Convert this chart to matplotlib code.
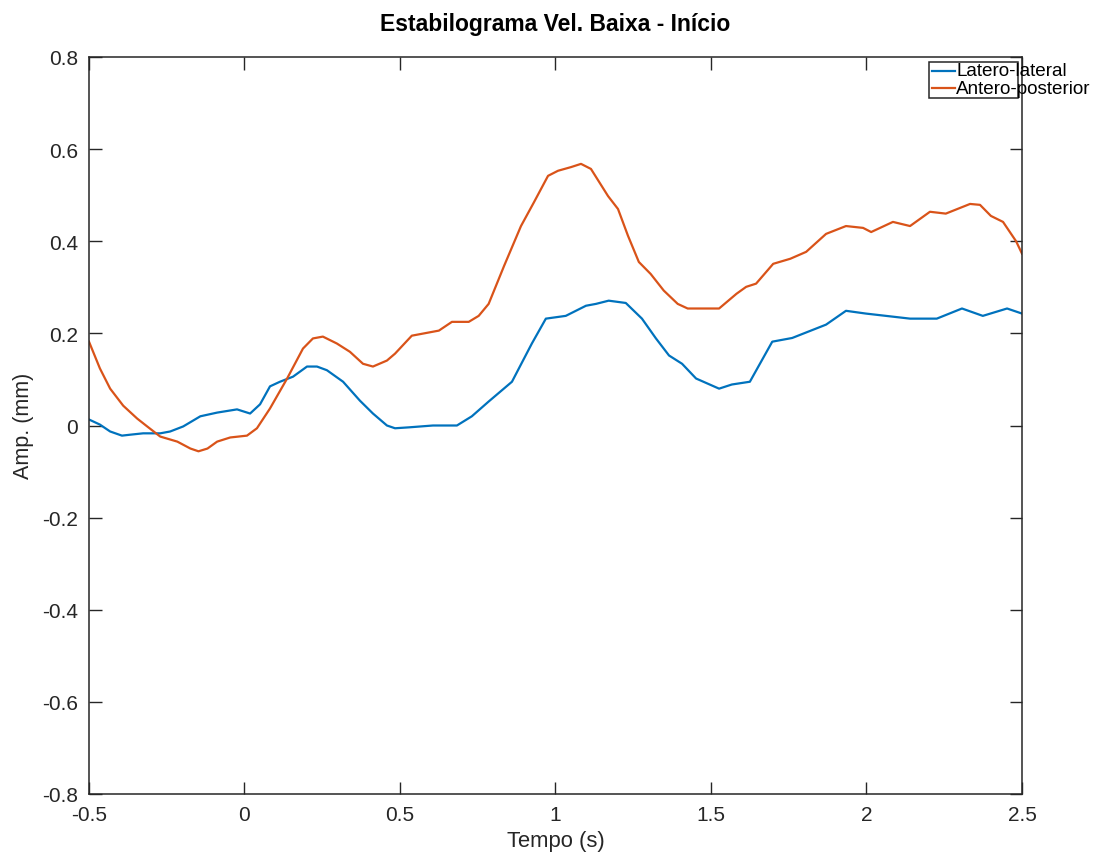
import matplotlib
matplotlib.use("Agg")
import matplotlib.pyplot as plt
from matplotlib.patches import Rectangle
from matplotlib.lines import Line2D

plt.rcParams['font.family'] = ['Liberation Sans', 'DejaVu Sans']

title = "Estabilograma Vel. Baixa - Início"
xlabel = "Tempo (s)"
ylabel = "Amp. (mm)"
series_names = ["Latero-lateral", "Antero-posterior"]

# Latero-lateral (blue)
t_ll = [-0.5, -0.465, -0.432, -0.394, -0.368, -0.326, -0.271, -0.239, -0.197, -0.142, -0.088,
        -0.024, 0.018, 0.050, 0.082, 0.114, 0.156, 0.201, 0.233, 0.265, 0.317, 0.371, 0.413,
        0.458, 0.484, 0.529, 0.606, 0.683, 0.731, 0.785, 0.860, 0.924, 0.969, 1.033, 1.098,
        1.130, 1.171, 1.226, 1.278, 1.323, 1.365, 1.407, 1.452, 1.526, 1.567, 1.625, 1.697,
        1.761, 1.870, 1.934, 1.998, 2.140, 2.226, 2.307, 2.374, 2.452, 2.500]
y_ll = [0.013, 0.002, -0.013, -0.022, -0.020, -0.017, -0.017, -0.013, -0.002, 0.020, 0.028,
        0.035, 0.026, 0.046, 0.085, 0.095, 0.106, 0.128, 0.128, 0.120, 0.095, 0.054, 0.026,
        0.000, -0.006, -0.004, 0.000, 0.000, 0.020, 0.052, 0.095, 0.178, 0.232, 0.238, 0.260,
        0.264, 0.271, 0.266, 0.232, 0.189, 0.152, 0.134, 0.102, 0.080, 0.089, 0.095, 0.182,
        0.190, 0.219, 0.249, 0.243, 0.232, 0.232, 0.254, 0.238, 0.254, 0.243]

# Antero-posterior (orange)
t_ap = [-0.5, -0.465, -0.432, -0.390, -0.345, -0.313, -0.271, -0.216, -0.174, -0.148, -0.119,
        -0.088, -0.046, 0.008, 0.040, 0.082, 0.137, 0.188, 0.220, 0.252, 0.297, 0.339, 0.381,
        0.413, 0.458, 0.484, 0.538, 0.625, 0.667, 0.721, 0.753, 0.785, 0.835, 0.889, 0.931,
        0.976, 1.008, 1.050, 1.082, 1.114, 1.169, 1.201, 1.233, 1.268, 1.306, 1.348, 1.393,
        1.425, 1.474, 1.526, 1.582, 1.613, 1.645, 1.700, 1.755, 1.806, 1.870, 1.934, 1.989,
        2.015, 2.085, 2.140, 2.204, 2.255, 2.333, 2.365, 2.400, 2.439, 2.481, 2.500]
y_ap = [0.182, 0.124, 0.080, 0.043, 0.015, -0.002, -0.024, -0.035, -0.050, -0.056, -0.050,
        -0.035, -0.026, -0.022, -0.006, 0.037, 0.102, 0.167, 0.189, 0.193, 0.178, 0.160, 0.134,
        0.128, 0.141, 0.156, 0.195, 0.206, 0.225, 0.225, 0.238, 0.264, 0.347, 0.433, 0.485,
        0.542, 0.553, 0.561, 0.568, 0.557, 0.498, 0.470, 0.412, 0.355, 0.329, 0.293, 0.264,
        0.254, 0.254, 0.254, 0.286, 0.301, 0.308, 0.351, 0.362, 0.377, 0.416, 0.433, 0.429,
        0.420, 0.442, 0.433, 0.464, 0.460, 0.481, 0.479, 0.455, 0.442, 0.400, 0.373]

xticks = [-0.5, 0, 0.5, 1, 1.5, 2, 2.5]
xtick_labels = ["-0.5", "0", "0.5", "1", "1.5", "2", "2.5"]
yticks = [-0.8, -0.6, -0.4, -0.2, 0, 0.2, 0.4, 0.6, 0.8]
ytick_labels = ["-0.8", "-0.6", "-0.4", "-0.2", "0", "0.2", "0.4", "0.6", "0.8"]

colors = ["#0072BD", "#D95319"]
axcol = "#262626"

W, H = 1096, 854
fig = plt.figure(figsize=(W / 100, H / 100), dpi=100)
left, right, top, bottom = 89, 1022, 58, 795
ax = fig.add_axes([left / W, (H - bottom) / H, (right - left) / W, (bottom - top) / H])

ax.plot(t_ll, y_ll, color=colors[0], lw=1.6)
ax.plot(t_ap, y_ap, color=colors[1], lw=1.6)

ax.set_xlim(-0.5, 2.5)
ax.set_ylim(-0.8, 0.8)
ax.set_xticks(xticks)
ax.set_xticklabels(xtick_labels)
ax.set_yticks(yticks)
ax.set_yticklabels(ytick_labels)
ax.tick_params(direction='in', length=9, width=1, colors=axcol, labelsize=15,
               top=True, right=True)
ax.tick_params(axis='x', pad=8)
ax.tick_params(axis='y', pad=8)
for s in ax.spines.values():
    s.set_color(axcol)
    s.set_linewidth(1.1)

def px2fig(x, y):
    return x / W, 1 - y / H

tx, ty = px2fig((left + right) / 2, 25)
fig.text(tx, ty, title, fontsize=16.5, fontweight='bold', color='black', ha='center', va='center')
tx, ty = px2fig((left + right) / 2, 842)
fig.text(tx, ty, xlabel, fontsize=15.8, color=axcol, ha='center', va='center')
tx, ty = px2fig(24, 426)
fig.text(tx, ty, ylabel, fontsize=15.5, color=axcol, ha='center', va='center', rotation=90)

# Octave-style legend: box narrower than text
x0, y0 = px2fig(929, 99)
x1, y1 = px2fig(1018, 63)
fig.patches.append(Rectangle((x0, y0), x1 - x0, y1 - y0, transform=fig.transFigure,
                             fill=True, facecolor='white', edgecolor=axcol, lw=1.1, zorder=5))
for i, (name, yy) in enumerate(zip(series_names, [72, 89])):
    a, b = px2fig(932, yy)
    c, _ = px2fig(955, yy)
    fig.add_artist(Line2D([a, c], [b, b], transform=fig.transFigure, color=colors[i], lw=1.6, zorder=6))
    tx, ty = px2fig(956, yy)
    fig.text(tx, ty, name, fontsize=13.6, color='black', va='center', ha='left', zorder=7)

fig.savefig("out.png", dpi=100, facecolor='white')
